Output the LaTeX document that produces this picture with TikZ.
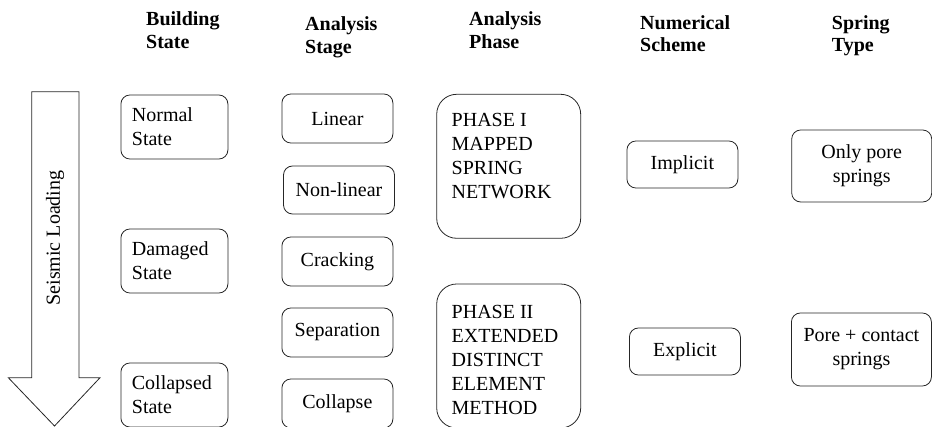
\documentclass[tikz,border=0pt]{standalone}
\usepackage{fontspec}
\setmainfont{Liberation Serif}
\usetikzlibrary{positioning}

\newcommand{\boxfont}{\fontsize{20}{24}\selectfont}
\newcommand{\headfont}{\fontsize{20}{22.3}\selectfont\bfseries}

\begin{document}
\begin{tikzpicture}[x=1pt,y=-1pt]

  % Parameters
  \def\lw{0.8pt}

  % Styles
  \tikzstyle{box}=[draw=black!85,line width=\lw,rounded corners=9pt,inner sep=0pt,font=\boxfont]
  \tikzstyle{statebox}=[box,minimum width=107pt,minimum height=64pt,text width=85pt,align=left]
  \tikzstyle{stagebox}=[box,minimum width=111pt,minimum height=49pt,align=center]
  \tikzstyle{phasebox}=[box,rounded corners=20pt,minimum width=144pt,minimum height=144pt]
  \tikzstyle{schemebox}=[box,minimum width=111pt,minimum height=47pt]
  \tikzstyle{springbox}=[box,minimum width=140pt,minimum height=72pt,align=center]
  \tikzstyle{head}=[anchor=base west,align=left,inner sep=0pt,font=\headfont]

  \useasboundingbox (0,0) rectangle (932,427);
  \clip (0,0) rectangle (932,427);

  % Column heads (anchored at the baseline of the second line)
  \node[head] (h-state) at (146,48.3) {Building\\State};
  \node[head] (h-stage) at (305,53.3) {Analysis\\Stage};
  \node[head] (h-phase) at (469,48.3) {Analysis\\Phase};
  \node[head] (h-scheme) at (640,51.7) {Numerical\\Scheme};
  \node[head] (h-spring) at (831.7,51.7) {Spring\\Type};

  % Loading arrow
  \draw[draw=black!85,line width=\lw] (31.7,91.7) -- (79,91.7) -- (79,377.7) -- (100,377.7)
    -- (54.5,426) -- (8.3,377.7) -- (31.7,377.7) -- cycle;
  \node[rotate=90,font=\boxfont,inner sep=0pt] (load) at (55,238) {Seismic Loading};

  % Building state
  \node[statebox] (normal) at (174.4,127) {Normal\\State};
  \node[statebox] (damaged) at (174.4,261) {Damaged\\State};
  \node[statebox] (collapsed) at (174.4,395) {Collapsed\\State};

  % Analysis stage
  \node[stagebox] (linear) at (337.4,118.5) {Linear};
  \node[stagebox,minimum height=48pt] (nonlinear) at (339,190) {Non-linear};
  \node[stagebox] (cracking) at (337.4,261.5) {Cracking};
  \node[stagebox] (separation) at (337.4,332.5) {Separation};
  \node[stagebox] (collapse) at (337.4,403.5) {Collapse};

  % Analysis phase
  \node[phasebox] (phase-1) at (508.7,166.3)
    {\parbox[t][106pt][t]{114pt}{PHASE I\\MAPPED\\SPRING\\NETWORK}};
  \node[phasebox] (phase-2) at (508.7,356)
    {\parbox[t][102pt][t]{114pt}{PHASE II\\EXTENDED\\DISTINCT\\ELEMENT\\METHOD}};

  % Numerical scheme
  \node[schemebox] (implicit) at (682.4,164.5) {Implicit};
  \node[schemebox] (explicit) at (684.9,351.5) {Explicit};

  % Spring type
  \node[springbox] (pore) at (861.7,166) {Only pore\\springs};
  \node[springbox,minimum height=73pt] (contact) at (861.4,349.5) {Pore + contact\\springs};

\end{tikzpicture}
\end{document}
